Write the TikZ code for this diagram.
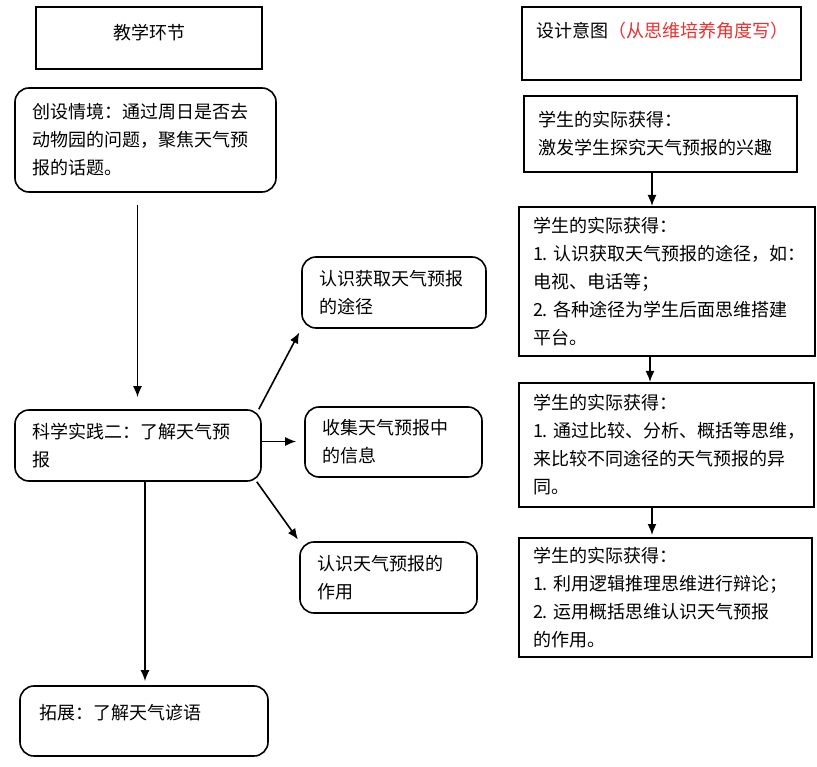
\documentclass[tikz,border=0pt]{standalone}
\usepackage{fontspec}
\setmainfont{Noto Sans CJK SC}
\usetikzlibrary{arrows.meta}
\definecolor{aimred}{RGB}{232,48,48}
\begin{document}
\begin{tikzpicture}[x=1pt, y=-1pt, >={Latex[length=11pt,width=9pt]},
  font=\fontsize{18}{28}\selectfont,
  plainbox/.style={rectangle, draw=black, line width=2pt, inner xsep=14pt, align=left},
  roundbox/.style={rectangle, rounded corners=14pt, draw=black, line width=1.6pt, inner xsep=17pt, align=left},
  link/.style={->, line width=1.6pt}]
\useasboundingbox (0,0) rectangle (817,767);

% left column
\node (stage) [plainbox, minimum width=226pt, minimum height=62pt, align=center] at (149,38) {教学环节\\[-16pt] \mbox{}};
\node (sit) [roundbox, minimum width=261pt, minimum height=104pt, text width=227pt] at (145.5,140) {创设情境：通过周日是否去\\动物园的问题，聚焦天气预\\报的话题。};
\node (sci) [roundbox, minimum width=246pt, minimum height=71pt, text width=212pt] at (138,445.5) {科学实践二：了解天气预\\报};
\node (way) [roundbox, minimum width=184pt, minimum height=71pt, text width=150pt] at (394,292.5) {认识获取天气预报\\的途径};
\node (info) [roundbox, minimum width=177pt, minimum height=70pt, text width=143pt] at (393.5,442) {收集天气预报中\\的信息};
\node (role) [roundbox, minimum width=177pt, minimum height=71pt, text width=143pt] at (388.5,577.5) {认识天气预报的\\作用};
\node (ext) [roundbox, minimum width=248pt, minimum height=70pt, text width=210pt, inner xsep=19pt] at (144,721) {拓展：了解天气谚语\\[-10pt] \mbox{}};

% right column
\node (aim) [plainbox, minimum width=279pt, minimum height=73pt, text width=251pt] at (661.5,43.5) {设计意图\textcolor{aimred}{（从思维培养角度写）}\\ \mbox{}};
\node (got1) [plainbox, minimum width=273pt, minimum height=76pt, text width=245pt] at (660.5,134) {学生的实际获得：\\激发学生探究天气预报的兴趣};
\node (got2) [plainbox, minimum width=296pt, minimum height=149pt, text width=268pt] at (667,281.5) {学生的实际获得：\\1.~认识获取天气预报的途径，如：\\电视、电话等；\\2.~各种途径为学生后面思维搭建\\平台。};
\node (got3) [plainbox, minimum width=295pt, minimum height=124pt, text width=267pt] at (666.5,445) {学生的实际获得：\\1.~通过比较、分析、概括等思维，\\来比较不同途径的天气预报的异\\同。};
\node (got4) [plainbox, minimum width=293pt, minimum height=119pt, text width=265pt] at (665.5,597.5) {学生的实际获得：\\1.~利用逻辑推理思维进行辩论；\\2.~运用概括思维认识天气预报\\的作用。};

\draw[link, shorten <=12pt, shorten >=12pt] ([xshift=-8pt]sit.south) -- ([xshift=-8pt]sit.south |- sci.north);
\draw[link, shorten >=4pt] ([xshift=-3pt]sci.north east) -- (way.south west);
\draw[link, shorten >=8pt] ([yshift=4pt]sci.east) -- ([yshift=4pt]sci.east -| info.west);
\draw[link, shorten >=2pt] ([xshift=-5pt]sci.south east) -- (role.north west);
\draw[link, shorten >=4pt] ([xshift=7pt]sci.south) -- ([xshift=7pt]sci.south |- ext.north);

\draw[link] ([xshift=-8.5pt]got1.south) -- ([xshift=-8.5pt]got1.south |- got2.north);
\draw[link] ([xshift=-17pt]got2.south) -- ([xshift=-17pt]got2.south |- got3.north);
\draw[link, shorten >=2pt] ([xshift=-14.5pt]got3.south) -- ([xshift=-14.5pt]got3.south |- got4.north);

\end{tikzpicture}
\end{document}
